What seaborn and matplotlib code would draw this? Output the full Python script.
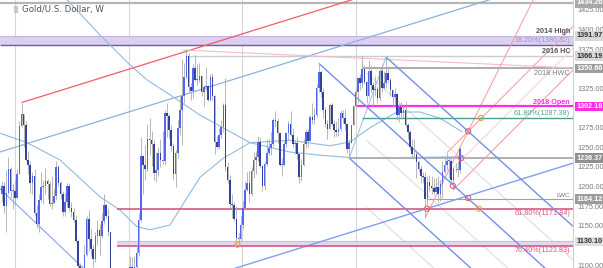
import numpy as np
import pandas as pd
import matplotlib
matplotlib.use("Agg")
import matplotlib.pyplot as plt
import matplotlib.transforms as mtransforms
import seaborn as sns

# ---------------- weekly OHLC (week 0 = first week of Jan 2015) ----------------
first_open = 1190
closes_2014 = [1201, 1175, 1192, 1222, 1195, 1195]
highs_2014 = [1207, 1206, 1221, 1238, 1225, 1204]
lows_2014 = [1181, 1166, 1142, 1190, 1186, 1172]

closes_2015 = [1186, 1216, 1277, 1292, 1279, 1234, 1227, 1204, 1213, 1167, 1152, 1183, 1199, 1201, 1207, 1203,
               1178, 1179, 1188, 1225, 1205, 1190, 1168, 1180, 1201, 1173, 1168, 1157, 1131, 1099, 1094, 1094,
               1113, 1159, 1133, 1121, 1108, 1137, 1145, 1137, 1156, 1177, 1163, 1142, 1088, 1081, 1076, 1057,
               1085, 1075, 1066, 1076]
highs_2015 = [1210, 1223, 1283, 1307, 1292, 1283, 1245, 1233, 1219, 1223, 1177, 1190, 1219, 1209, 1224, 1210,
              1207, 1214, 1197, 1232, 1227, 1207, 1195, 1192, 1205, 1205, 1180, 1173, 1164, 1133, 1103, 1099,
              1126, 1162, 1170, 1147, 1126, 1142, 1157, 1152, 1166, 1191, 1178, 1173, 1142, 1094, 1087, 1085,
              1089, 1088, 1082, 1080]
lows_2015 = [1176, 1185, 1216, 1276, 1251, 1232, 1216, 1192, 1190, 1163, 1147, 1142, 1180, 1178, 1191, 1184,
             1175, 1171, 1178, 1183, 1201, 1184, 1162, 1162, 1174, 1169, 1161, 1155, 1130, 1077, 1080, 1084,
             1094, 1112, 1118, 1111, 1098, 1104, 1126, 1113, 1135, 1152, 1160, 1137, 1084, 1077, 1065, 1053,
             1046, 1070, 1049, 1064]

closes_2016 = [1061, 1097, 1089, 1097, 1116, 1157, 1239, 1227, 1222, 1260, 1259, 1254, 1217, 1221, 1243, 1234,
               1232, 1294, 1290, 1272, 1252, 1216, 1243, 1275, 1298, 1315, 1339, 1366, 1327, 1322, 1351, 1336,
               1336, 1341, 1320, 1327, 1328, 1310, 1339, 1316, 1257, 1251, 1266, 1276, 1304, 1225, 1208, 1178,
               1177, 1159, 1134, 1133, 1151]
highs_2016 = [1083, 1112, 1110, 1112, 1125, 1167, 1263, 1240, 1253, 1280, 1287, 1271, 1259, 1244, 1250, 1260,
              1271, 1298, 1306, 1292, 1278, 1256, 1247, 1285, 1315, 1362, 1358, 1375, 1370, 1332, 1356, 1368,
              1356, 1357, 1342, 1330, 1352, 1330, 1344, 1345, 1317, 1264, 1275, 1285, 1307, 1338, 1231, 1215,
              1191, 1180, 1175, 1141, 1163]
lows_2016 = [1060, 1058, 1073, 1080, 1096, 1111, 1155, 1191, 1208, 1220, 1240, 1226, 1208, 1206, 1214, 1225,
             1229, 1228, 1263, 1262, 1245, 1209, 1200, 1237, 1266, 1253, 1306, 1337, 1320, 1310, 1313, 1334,
             1330, 1333, 1316, 1303, 1323, 1309, 1309, 1310, 1241, 1249, 1248, 1262, 1270, 1220, 1204, 1171,
             1160, 1156, 1123, 1124, 1131]

closes_2017 = [1173, 1196, 1205, 1190, 1220, 1234, 1238, 1257, 1226, 1201, 1229, 1243, 1249, 1254, 1285, 1284,
               1268, 1228, 1228, 1254, 1268, 1280, 1266, 1254, 1256, 1242, 1212, 1228, 1254, 1269, 1258, 1289,
               1285, 1291, 1325, 1346, 1320, 1297, 1280, 1274, 1304, 1280, 1272, 1269, 1274, 1294, 1288, 1280,
               1248, 1256, 1278, 1303]
highs_2017 = [1182, 1207, 1219, 1220, 1225, 1244, 1245, 1264, 1263, 1228, 1233, 1261, 1260, 1270, 1288, 1296,
              1288, 1270, 1236, 1258, 1270, 1283, 1296, 1275, 1259, 1263, 1243, 1235, 1260, 1274, 1274, 1291,
              1306, 1300, 1331, 1357, 1348, 1326, 1301, 1285, 1306, 1306, 1285, 1283, 1287, 1297, 1298, 1299,
              1280, 1261, 1279, 1304]
lows_2017 = [1146, 1170, 1195, 1180, 1188, 1211, 1216, 1232, 1224, 1195, 1196, 1226, 1240, 1240, 1252, 1276,
             1256, 1226, 1214, 1226, 1250, 1259, 1264, 1250, 1241, 1235, 1204, 1207, 1226, 1249, 1251, 1258,
             1280, 1280, 1289, 1321, 1314, 1288, 1276, 1260, 1274, 1279, 1263, 1264, 1264, 1271, 1281, 1272,
             1243, 1236, 1255, 1278]

closes_2018 = [1320, 1338, 1332, 1350, 1333, 1316, 1347, 1330, 1323, 1324, 1313, 1347, 1325, 1332, 1345, 1336,
               1323, 1314, 1318, 1291, 1302, 1294, 1298, 1279, 1270, 1251, 1241, 1241, 1231, 1223, 1214, 1212,
               1184, 1206, 1201, 1198, 1193, 1200, 1191, 1203, 1218, 1227, 1233, 1233, 1209, 1222, 1222, 1221,
               1248]
highs_2018 = [1326, 1339, 1344, 1366, 1355, 1335, 1361, 1354, 1333, 1341, 1328, 1350, 1356, 1347, 1365, 1354,
              1338, 1323, 1326, 1319, 1306, 1308, 1303, 1309, 1281, 1272, 1261, 1261, 1247, 1234, 1227, 1219,
              1218, 1214, 1215, 1213, 1211, 1211, 1214, 1208, 1233, 1237, 1243, 1238, 1237, 1225, 1230, 1232,
              1250]
lows_2018 = [1301, 1307, 1323, 1326, 1331, 1306, 1314, 1321, 1303, 1316, 1307, 1309, 1320, 1324, 1326, 1332,
             1316, 1302, 1304, 1285, 1282, 1288, 1287, 1276, 1261, 1247, 1238, 1237, 1211, 1218, 1205, 1205,
             1160, 1176, 1195, 1191, 1189, 1193, 1180, 1182, 1185, 1217, 1221, 1211, 1206, 1196, 1219, 1212,
             1217]
first_week = -6

# moving averages (week, price)
ma52_weeks = [-6.9, 5.5, 20.7, 39.2, 48.4, 56.2, 62.2, 71.4, 85.3, 95.9, 108.3, 126.7, 145.2, 154.4, 163.6,
              176.0, 186.6, 195.9, 206.0]
ma52_vals = [1268, 1256, 1234, 1187, 1170, 1149, 1145, 1151, 1212, 1236, 1256, 1259, 1252, 1257, 1275,
             1295, 1295, 1287, 1270]
ma200_weeks = [20.0, 24.0, 39.2, 53.0, 60.8, 71.4, 85.3, 108.3, 126.7, 140.6, 154.4, 177.4, 206.0]
ma200_vals = [1450, 1438, 1393, 1355, 1336, 1317, 1291, 1256, 1244, 1240, 1237, 1237, 1238]

# horizontal levels
level_1434 = 1434.26
band_top = (1380.32, 1391.97)
level_2016hc = 1366.19
level_2018hwc = 1350.66
level_2018open = 1302.18
level_fib618_up = 1287.38
level_1236 = 1236.37
level_lwc = 1184.12
level_fib618_dn = 1171.84
band_bottom = (1123.83, 1130.10)
year_start_weeks = [0, 52.4, 104.6, 157]
tick_values = [1100, 1150, 1175, 1200, 1225, 1250, 1275, 1325, 1375, 1400, 1425]

# trend-line anchors (week, price) and slopes ($ per week)
channel_upper = (0, 1250.0)
channel_red = (3, 1307)
channel_lower = (177.4, 1161.3)
channel_slope = 0.86
left_line = (-6.9, 1197.1)
left_slope = -2.63
pink_flat = [(77.4, 1374.0), (257.1, 1351.1)]
fork_A, fork_B, fork_C = (140, 1357), (154, 1236.37), (171, 1365)
rfork_A, rfork_B, rfork_C = (189, 1160), (199, 1243), (202, 1196)

red_marks_w = [189.9, 201.8, 208.8, 208.8, 205.6]
red_marks_p = [1171.84, 1201, 1185.5, 1270.5, 1236.4]
orange_marks_w = [214.7, 213.8, 102.6]
orange_marks_p = [1287.38, 1171.84, 1126]

# ---------------- plotting ----------------
sns.set_theme(style="white")
plt.rcParams['font.family'] = ['DejaVu Sans']
AXFONT = ['Liberation Sans', 'DejaVu Sans']

closes = closes_2014 + closes_2015 + closes_2016 + closes_2017 + closes_2018
highs = highs_2014 + highs_2015 + highs_2016 + highs_2017 + highs_2018
lows = lows_2014 + lows_2015 + lows_2016 + lows_2017 + lows_2018
opens = [first_open] + closes[:-1]
weeks = np.arange(first_week, first_week + len(closes))
df = pd.DataFrame({"week": weeks, "open": opens, "high": highs, "low": lows, "close": closes})

XMIN, XMAX = -6.91, 257.14
fig = plt.figure(figsize=(6.03, 2.68), dpi=100)
ax = fig.add_axes([0, 0, 573 / 603, 1])
ax.set_xlim(XMIN, XMAX)
ax.set_ylim(1096.3, 1437.7)
ax.set_facecolor("white")

for w in year_start_weeks:
    ax.axvline(w, color="#d6d6d6", lw=0.8, zorder=1)

def seg(anchor, slope, w0, w1, **kw):
    ws = np.array([w0, w1])
    ps = anchor[1] + slope * (ws - anchor[0])
    ax.plot(ws, ps, solid_capstyle="butt", **kw)

# horizontal levels and bands
ax.hlines(level_1434, XMIN, XMAX, color="#b5b5b5", lw=1.6, zorder=2)
ax.fill_between([XMIN, XMAX], band_top[0], band_top[1], color="#dcd0ee", lw=0, zorder=1.5)
ax.hlines(band_top[1], XMIN, XMAX, color="#c4b4e4", lw=0.8, zorder=2)
ax.hlines(band_top[0], XMIN, XMAX, color="#6a5cb0", lw=1.0, zorder=2)
ax.hlines(level_2016hc, 79, XMAX, color="#cccccc", lw=1.0, zorder=2)
ax.hlines(level_2018hwc, 160, XMAX, color="#a5a5a5", lw=1.3, zorder=2)
ax.hlines(level_2018open, 157, XMAX, color="#ff2de6", lw=1.6, zorder=3)
ax.hlines(level_fib618_up, 160, XMAX, color="#4e9e94", lw=1.0, zorder=3)
ax.hlines(level_1236, 154, XMAX, color="#aaaaaa", lw=1.3, zorder=2)
ax.hlines(level_lwc, 190, XMAX, color="#a0a0a0", lw=0.8, zorder=2)
ax.hlines(level_fib618_dn, 47, XMAX, color="#d9577f", lw=1.2, zorder=3)
ax.fill_between([47, XMAX], band_bottom[0], band_bottom[1], color="#e2d8f0", lw=0, zorder=1.5)
ax.hlines(band_bottom[1], 47, XMAX, color="#c8bce0", lw=0.8, zorder=2)
ax.hlines(band_bottom[0], 47, XMAX, color="#d9577f", lw=1.2, zorder=3)

# moving averages
sns.lineplot(x=ma52_weeks, y=ma52_vals, ax=ax, color="#8fbbe0", lw=0.8, zorder=2)
sns.lineplot(x=ma200_weeks, y=ma200_vals, ax=ax, color="#8fbbe0", lw=0.8, zorder=2)

# channel lines
seg(channel_upper, channel_slope, XMIN, XMAX, color="#8ab2de", lw=0.9, zorder=2)
seg(channel_red, channel_slope, channel_red[0], 170, color="#f25c6c", lw=0.9, zorder=2)
seg(channel_lower, channel_slope, 100, XMAX, color="#7f9ff0", lw=1.0, zorder=2)
seg(left_line, left_slope, XMIN, 40, color="#8fb0e6", lw=0.9, zorder=2)
ax.plot([p[0] for p in pink_flat], [p[1] for p in pink_flat], color="#f6bcc4", lw=0.8, zorder=2)

# Andrews pitchfork (blue)
mid_w = (fork_B[0] + fork_C[0]) / 2
mid_p = (fork_B[1] + fork_C[1]) / 2
fslope = (mid_p - fork_A[1]) / (mid_w - fork_A[0])
seg(fork_A, fslope, fork_A[0], XMAX, color="#7390e8", lw=1.0, zorder=3)
seg(fork_B, fslope, fork_B[0], XMAX, color="#7390e8", lw=1.0, zorder=3)
seg(fork_C, fslope, fork_C[0], XMAX, color="#7390e8", lw=1.0, zorder=3)
ax.plot([fork_B[0], fork_C[0]], [fork_B[1], fork_C[1]], color="#9cc0e6", lw=0.7, zorder=2)
half = (fork_C[1] + fslope * (fork_A[0] - fork_C[0]) - fork_A[1]) / 2
for off in (half, -half, -3 * half):
    seg((fork_A[0], fork_A[1] + off), fslope, 162, XMAX, color="#dedede", lw=0.8, zorder=1.8)

# Schiff pitchfork (pink)
org_w = (rfork_A[0] + rfork_B[0]) / 2
org_p = (rfork_A[1] + rfork_B[1]) / 2
rmid_w = (rfork_B[0] + rfork_C[0]) / 2
rmid_p = (rfork_B[1] + rfork_C[1]) / 2
rslope = (rmid_p - org_p) / (rmid_w - org_w)
seg((org_w, org_p), rslope, org_w, XMAX, color="#fbd0d4", lw=0.7, zorder=2)
seg(rfork_B, rslope, rfork_B[0], XMAX, color="#f5a3aa", lw=0.8, zorder=2)
seg(rfork_C, rslope, rfork_C[0], XMAX, color="#f5a3aa", lw=0.8, zorder=2)
steep = (red_marks_p[3] - rfork_A[1]) / (red_marks_w[3] - rfork_A[0])
seg(rfork_A, steep, rfork_A[0], XMAX, color="#f5a3aa", lw=0.8, zorder=2)

# candles
up = df["close"] >= df["open"]
ax.vlines(df["week"], df["low"], df["high"], color="#acacac", lw=0.6, zorder=4)
body_lo = np.minimum(df["open"], df["close"])
body_h = np.maximum(np.abs(df["close"] - df["open"]), 0.8)
ax.bar(df["week"][up], body_h[up], bottom=body_lo[up], width=0.72, color="#5366f2", lw=0, zorder=5)
ax.bar(df["week"][~up], body_h[~up], bottom=body_lo[~up], width=0.72, color="#33439c", lw=0, zorder=5)

# markers
ax.scatter(red_marks_w, red_marks_p, s=14, facecolors="none", edgecolors="#e3606e", lw=0.8, zorder=6)
ax.scatter(orange_marks_w, orange_marks_p, s=14, facecolors="none", edgecolors="#f2a23c", lw=0.8, zorder=6)

# axes styling
for s in ("left", "top", "bottom"):
    ax.spines[s].set_visible(False)
ax.spines["right"].set_color("#cfcfcf")
ax.spines["right"].set_linewidth(0.8)
ax.set_xticks([])
ax.yaxis.tick_right()
ax.set_yticks(tick_values)
ax.set_yticklabels([f"{v:.2f}" for v in tick_values], family=AXFONT)
ax.tick_params(axis="y", labelsize=5.3, colors="#7a7a7a", length=0, pad=3)
ax.set_xlabel("")
ax.set_ylabel("")

# in-plot labels (right aligned)
lab_w = 255.8
def lab(p, s, color, va, bold=False, size=5.2):
    ax.text(lab_w, p, s, ha="right", va=va, fontsize=size, color=color, family=AXFONT,
            fontweight="bold" if bold else "normal", zorder=7)

lab(1392.6, "2014 High", "#555555", "bottom", bold=True)
lab(1385.8, "38.20%(1380.32)", "#9a98d8", "center")
lab(1367.3, "2016 HC", "#555555", "bottom", bold=True)
lab(1349.0, "2018 HWC", "#7a7a7a", "top")
lab(1303.3, "2018 Open", "#ff2de6", "bottom", bold=True)
lab(1288.4, "61.80%(1287.38)", "#5a9e96", "bottom")
lab(1185.2, "LWC", "#777777", "bottom", size=4.6)
lab(1170.4, "61.80%(1171.84)", "#d9577f", "top")
lab(1122.6, "76.40%(1123.83)", "#d9577f", "top")

# price boxes on the axis
trans = mtransforms.blended_transform_factory(ax.transAxes, ax.transData)
boxes = [
    (level_1434, "1434.26", "#a9a9a9", "white"),
    (band_top[1], "1391.97", "#d8d8d8", "#333333"),
    (level_2016hc, "1366.19", "#d8d8d8", "#333333"),
    (level_2018hwc, "1350.66", "#9c9c9c", "white"),
    (level_2018open, "1302.18", "#ff2de6", "white"),
    (level_1236, "1236.37", "#8f8f8f", "white"),
    (level_lwc, "1184.12", "#9c9c9c", "white"),
    (band_bottom[1], "1130.10", "#dedede", "#333333"),
]
for p, s, fc, tc in boxes:
    ax.text(1.006, p, s, transform=trans, ha="left", va="center", fontsize=5.2, color=tc,
            family=AXFONT, fontweight="bold", clip_on=False, zorder=10,
            bbox=dict(boxstyle="square,pad=0.18", fc=fc, ec="none"))

# title
ax.text(0.022, 0.965, "\u258a", transform=ax.transAxes, fontsize=5, color="#c8c8c8", va="center")
ax.text(0.038, 0.965, "Gold/U.S. Dollar, W", transform=ax.transAxes, fontsize=6.2, color="#555555",
        va="center", zorder=7)

fig.savefig("out.png", dpi=100)
